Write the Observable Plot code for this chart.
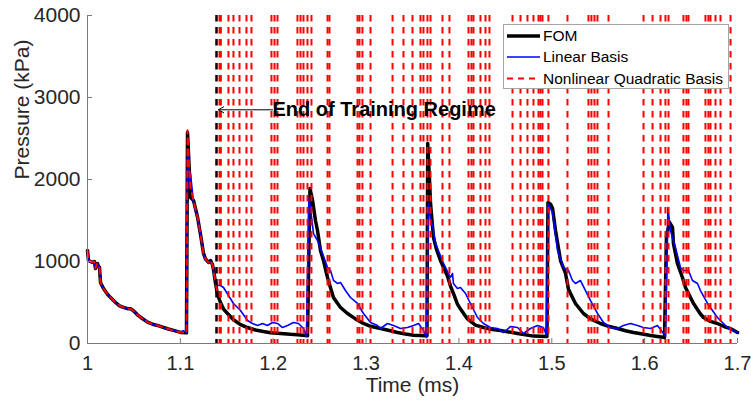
<!DOCTYPE html>
<html>
<head>
<meta charset="utf-8">
<script src="https://cdn.jsdelivr.net/npm/d3@7"></script>
<script src="https://cdn.jsdelivr.net/npm/@observablehq/plot@0.6"></script>
<style>
  html, body { margin: 0; padding: 0; background: white; }
  #chart { position: relative; width: 751px; height: 404px; }
</style>
</head>
<body>
<div id="chart"></div>
<script>
// ---------- data ----------
const xTicks = [1, 1.1, 1.2, 1.3, 1.4, 1.5, 1.6, 1.7];
const xTickLabels = ["1", "1.1", "1.2", "1.3", "1.4", "1.5", "1.6", "1.7"];
const yTicks = [0, 1000, 2000, 3000, 4000];
const yTickLabels = ["0", "1000", "2000", "3000", "4000"];

const seriesNames = ["FOM", "Linear Basis", "Nonlinear Quadratic Basis"];

// FOM: [time (ms), pressure (kPa)]
const fomSeries = [
  [1.0000,1134],[1.0011,1012],[1.0032,1000],[1.0054,990],[1.0075,1000],[1.0086,915],[1.0097,960],
  [1.0108,975],[1.0118,940],[1.0129,930],[1.0140,745],[1.0172,670],[1.0215,600],[1.0248,560],
  [1.0302,500],[1.0345,460],[1.0388,440],[1.0431,425],[1.0463,425],[1.0495,400],[1.0538,350],
  [1.0571,320],[1.0646,260],[1.0700,235],[1.0754,220],[1.0808,200],[1.0862,180],[1.0926,160],
  [1.1002,135],[1.1066,130],[1.1077,2573],[1.1088,2317],[1.1109,1780],[1.1142,1744],[1.1185,1540],
  [1.1217,1330],[1.1249,1100],[1.1271,1030],[1.1303,990],[1.1325,1012],[1.1346,960],[1.1357,900],
  [1.1378,740],[1.1400,600],[1.1432,500],[1.1465,420],[1.1508,366],[1.1572,290],[1.1648,230],
  [1.1723,195],[1.1809,165],[1.1895,146],[1.1971,132],[1.2078,122],[1.2186,112],[1.2261,108],
  [1.2348,98],[1.2369,95],[1.2396,1890],[1.2423,1750],[1.2455,1500],[1.2477,1378],[1.2509,1134],
  [1.2541,1012],[1.2585,805],[1.2617,680],[1.2649,561],[1.2692,490],[1.2725,439],[1.2800,366],
  [1.2886,300],[1.2972,244],[1.3048,210],[1.3155,183],[1.3263,155],[1.3338,134],[1.3425,115],
  [1.3511,100],[1.3640,95],[1.3656,95],[1.3664,2439],[1.3683,2000],[1.3694,1707],[1.3726,1293],
  [1.3758,1150],[1.3801,1012],[1.3877,820],[1.3909,700],[1.3941,610],[1.3984,480],[1.4017,420],
  [1.4092,300],[1.4178,225],[1.4264,195],[1.4340,175],[1.4448,158],[1.4631,122],[1.4803,90],
  [1.4948,85],[1.4959,1720],[1.4986,1700],[1.5008,1650],[1.5040,1378],[1.5094,1012],[1.5148,854],
  [1.5180,660],[1.5223,560],[1.5255,488],[1.5341,366],[1.5417,300],[1.5524,244],[1.5611,210],
  [1.5708,183],[1.5794,155],[1.5880,134],[1.5977,115],[1.6063,98],[1.6214,73],[1.6235,1300],
  [1.6267,1480],[1.6300,1415],[1.6310,1220],[1.6353,976],[1.6407,805],[1.6440,683],[1.6472,610],
  [1.6526,488],[1.6601,360],[1.6634,317],[1.6709,270],[1.6784,244],[1.6871,200],[1.6924,183],
  [1.7000,134]
];

// Linear Basis ROM
const linearSeries = [
  [1.0000,1120],[1.0011,1020],[1.0032,995],[1.0054,985],[1.0075,995],[1.0086,920],[1.0097,955],
  [1.0108,970],[1.0118,935],[1.0129,920],[1.0140,750],[1.0172,665],[1.0215,605],[1.0248,555],
  [1.0302,495],[1.0345,458],[1.0388,438],[1.0431,428],[1.0463,420],[1.0495,395],[1.0538,352],
  [1.0571,318],[1.0646,262],[1.0700,232],[1.0754,218],[1.0808,198],[1.0862,178],[1.0926,158],
  [1.0980,150],[1.1002,140],[1.1030,155],[1.1066,135],[1.1077,2300],[1.1088,2317],[1.1098,1900],
  [1.1109,2073],[1.1142,1720],[1.1185,1520],[1.1217,1320],[1.1249,1090],[1.1271,1020],[1.1303,985],
  [1.1325,1000],[1.1346,950],[1.1357,890],[1.1378,760],[1.1400,707],[1.1432,707],[1.1465,683],
  [1.1518,585],[1.1572,488],[1.1648,402],[1.1723,280],[1.1777,244],[1.1831,220],[1.1885,244],
  [1.1938,220],[1.1992,256],[1.2046,244],[1.2100,195],[1.2154,220],[1.2218,256],[1.2272,244],
  [1.2326,183],[1.2358,85],[1.2385,1780],[1.2401,1650],[1.2434,1341],[1.2477,1256],[1.2531,1098],
  [1.2585,927],[1.2617,890],[1.2649,770],[1.2692,732],[1.2725,744],[1.2778,646],[1.2832,561],
  [1.2908,488],[1.2972,366],[1.3048,256],[1.3123,220],[1.3155,183],[1.3231,244],[1.3295,220],
  [1.3371,183],[1.3446,195],[1.3511,220],[1.3565,244],[1.3618,158],[1.3651,73],[1.3672,1707],
  [1.3694,1500],[1.3715,1450],[1.3748,1220],[1.3834,976],[1.3909,805],[1.3931,854],[1.3941,732],
  [1.3984,670],[1.4017,683],[1.4071,610],[1.4124,488],[1.4200,317],[1.4264,244],[1.4340,195],
  [1.4415,183],[1.4480,134],[1.4555,207],[1.4631,195],[1.4695,122],[1.4770,183],[1.4846,220],
  [1.4910,195],[1.4943,98],[1.4959,1707],[1.5008,1600],[1.5062,1134],[1.5126,927],[1.5180,890],
  [1.5223,768],[1.5255,732],[1.5309,768],[1.5363,646],[1.5417,524],[1.5492,366],[1.5557,256],
  [1.5632,195],[1.5708,183],[1.5772,220],[1.5847,244],[1.5923,220],[1.5987,195],[1.6063,183],
  [1.6138,220],[1.6203,122],[1.6224,90],[1.6251,1659],[1.6278,1378],[1.6332,1170],[1.6386,927],
  [1.6418,890],[1.6472,890],[1.6515,768],[1.6569,732],[1.6601,646],[1.6677,488],[1.6784,317],
  [1.6892,195],[1.7000,134]
];

// Nonlinear Quadratic Basis ROM: tracks the FOM inside the training regime ...
const quadSeries = [
  [1.0000,1130],[1.0011,1015],[1.0032,1000],[1.0054,990],[1.0075,1000],[1.0086,915],[1.0097,960],
  [1.0108,975],[1.0118,940],[1.0129,925],[1.0140,745],[1.0172,670],[1.0215,600],[1.0248,560],
  [1.0302,500],[1.0345,460],[1.0388,440],[1.0431,425],[1.0463,425],[1.0495,400],[1.0538,350],
  [1.0571,320],[1.0646,260],[1.0700,235],[1.0754,220],[1.0808,200],[1.0862,180],[1.0926,160],
  [1.1002,135],[1.1066,130],[1.1077,2600],[1.1088,2300],[1.1109,1900],[1.1142,1744],[1.1185,1540],
  [1.1217,1330],[1.1249,1100],[1.1271,1030],[1.1303,990],[1.1325,1012],[1.1346,960],[1.1357,900],
  [1.1378,740],[1.1400,620]
];
// ... and then diverges: times (ms) where its trace sweeps across the whole axis
const quadDivergenceTimes = [
  1.1422,1.1436,1.1518,1.1572,1.1637,1.1712,1.1766,1.1981,1.2014,1.2046,1.2261,1.2294,1.2326,
  1.2369,1.2412,1.2585,1.2606,1.2908,1.2929,1.2961,1.3048,1.3285,1.3403,1.3500,1.3586,1.3618,
  1.3661,1.3694,1.3823,1.3898,1.4103,1.4135,1.4157,1.4232,1.4286,1.4329,1.4577,1.4663,1.4738,
  1.4803,1.4857,1.4878,1.4900,1.4964,1.5169,1.5395,1.5427,1.5460,1.5492,1.5611,1.5988,1.6085,
  1.6171,1.6224,1.6257,1.6418,1.6450,1.6472,1.6655,1.6687,1.6709,1.6763,1.6817,1.6925
];

const trainingEndTime = 1.14;
const annotationText = "End of Training Regime";
const annotationTime = 1.1992;
const annotationPressure = 2850;

const xLabel = "Time (ms)";
const yLabel = "Pressure (kPa)";

// ---------- chart ----------
const axisColor = "#262626";
const fontFamily = "'Liberation Sans', Arial, sans-serif";
const W = 751, H = 404;
const mL = 87, mR = 14, mT = 15, mB = 61;
const frameW = W - mL - mR, frameH = H - mT - mB;
const tickLen = 5;

const svg = Plot.plot({
  width: W, height: H,
  marginLeft: mL, marginRight: mR, marginTop: mT, marginBottom: mB,
  x: {domain: [xTicks[0], xTicks[xTicks.length - 1]]},
  y: {domain: [yTicks[0], yTicks[yTicks.length - 1]]},
  style: {fontFamily, fontSize: "20px", color: axisColor, background: "white", overflow: "visible"},
  marks: [
    Plot.axisX({ticks: xTicks, tickFormat: (d, i) => xTickLabels[i], tickSize: 0, tickPadding: 12, label: null, fill: axisColor, fontSize: 20}),
    Plot.axisY({ticks: yTicks, tickFormat: (d, i) => yTickLabels[i], tickSize: 0, tickPadding: 7, label: null, fill: axisColor, fontSize: 21}),
    Plot.text([xLabel], {frameAnchor: "bottom", dy: 48, fontSize: 21, fill: axisColor}),
    Plot.text([yLabel], {frameAnchor: "left", dx: -65, rotate: -90, fontSize: 21, fill: axisColor}),
    // curves
    Plot.line(fomSeries, {x: d => d[0], y: d => d[1], stroke: "black", strokeWidth: 3.5, strokeLinejoin: "round"}),
    Plot.line(linearSeries, {x: d => d[0], y: d => d[1], stroke: "#0000ff", strokeWidth: 1.6, strokeLinejoin: "round"}),
    Plot.line(quadSeries, {x: d => d[0], y: d => d[1], stroke: "#ff0000", strokeWidth: 2, strokeDasharray: "6,5"}),
    Plot.ruleX(quadDivergenceTimes, {stroke: "#ff0000", strokeWidth: 2, strokeDasharray: "6.5,5.5"}),
    Plot.ruleX([trainingEndTime], {stroke: "black", strokeWidth: 2.5, strokeDasharray: "6.5,5.5", dx: -1}),
    // axis lines and inward ticks
    Plot.ruleX([xTicks[0]], {stroke: "#7a7a7a", strokeWidth: 1}),
    Plot.ruleY([yTicks[0]], {stroke: "#7a7a7a", strokeWidth: 1}),
    Plot.tickX(xTicks, {x: d => d, insetTop: frameH - tickLen, stroke: "#7a7a7a", strokeWidth: 1}),
    Plot.tickY(yTicks, {y: d => d, insetRight: frameW - tickLen, stroke: "#7a7a7a", strokeWidth: 1}),
    // annotation
    Plot.arrow([0], {x1: annotationTime, x2: trainingEndTime, y1: annotationPressure, y2: annotationPressure,
      stroke: "black", strokeWidth: 1, headLength: 9, insetStart: 0, insetEnd: 1}),
    Plot.text([annotationText], {x: annotationTime, y: annotationPressure, dx: 0, textAnchor: "start",
      fontSize: 20, fontWeight: "bold", fill: "black"})
  ]
});

document.getElementById("chart").appendChild(svg);

// legend drawn inside the axes (upper right), like the original
const lg = d3.select(svg).append("g")
  .attr("font-family", fontFamily).attr("font-size", 15.5).attr("text-anchor", "start");
lg.append("rect").attr("x", 503.5).attr("y", 24.5).attr("width", 225).attr("height", 64)
  .attr("fill", "white").attr("stroke", "#a6a6a6").attr("stroke-width", 1);
const legendStyles = [
  {stroke: "black", width: 3.5, dash: null},
  {stroke: "#0000ff", width: 1.6, dash: null},
  {stroke: "#ff0000", width: 2, dash: "6,5"}
];
const rowY = [36, 57, 78.5];
seriesNames.forEach((name, i) => {
  const s = legendStyles[i];
  const ln = lg.append("line").attr("x1", 507).attr("x2", 540).attr("y1", rowY[i]).attr("y2", rowY[i])
    .attr("stroke", s.stroke).attr("stroke-width", s.width);
  if (s.dash) ln.attr("stroke-dasharray", s.dash);
  lg.append("text").attr("x", 543).attr("y", rowY[i]).attr("dy", "0.35em")
    .attr("text-anchor", "start").attr("fill", "black").text(name);
});
</script>
</body>
</html>
